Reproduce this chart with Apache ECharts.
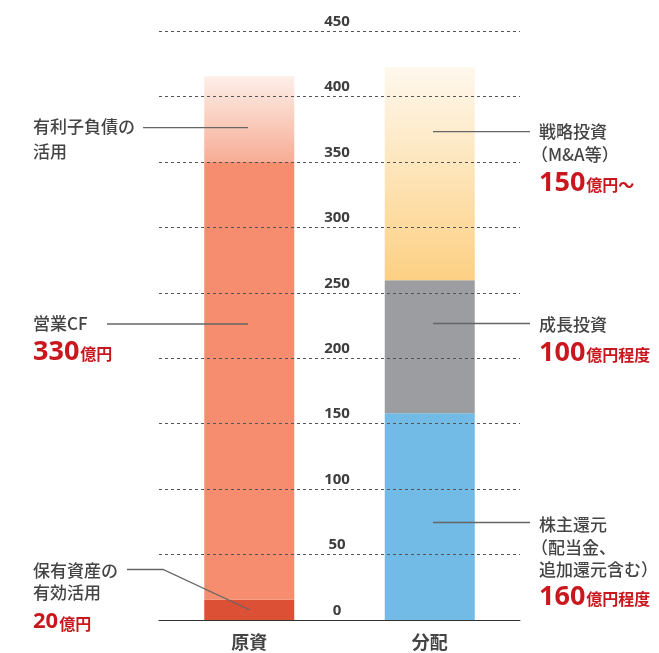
<!DOCTYPE html>
<html><head><meta charset="utf-8">
<script src="https://cdn.jsdelivr.net/npm/echarts@6/dist/echarts.min.js"></script>
<style>html,body{margin:0;padding:0;background:#fff;}#c{width:659px;height:653px;}</style>
</head><body><div id="c"></div>
<script>
// ---- data ----
const categories = ['原資', '分配'];
const yTicks = [0, 50, 100, 150, 200, 250, 300, 350, 400, 450];
const assetUse = [15.5, '-'];      // 保有資産の有効活用
const operatingCF = [334.5, '-'];  // 営業CF
const debtUse = [65.5, '-'];       // 有利子負債の活用
const shareholder = ['-', 158];    // 株主還元
const growth = ['-', 101.5];       // 成長投資
const strategic = ['-', 163];      // 戦略投資

const chart = echarts.init(document.getElementById('c'));
const JP = '"Noto Sans CJK JP", "Noto Sans", sans-serif';
const grad = (top, bottom) => new echarts.graphic.LinearGradient(0, 0, 0, 1, [
  {offset: 0, color: top}, {offset: 1, color: bottom}]);

function bar(name, data, color) {
  return {name, type: 'bar', stack: 'total', data, barWidth: 90,
    itemStyle: {color}, emphasis: {disabled: true}, z: 2};
}

const txt = (text, x, y, size) => ({type: 'text', z: 20, style: {
  text, x, y, fill: '#444', fontSize: size || 17, fontWeight: 500, fontFamily: JP, verticalAlign: 'middle'}});
const red = (num, unit, x, y, nsize) => ({type: 'text', z: 20, style: {
  text: '{n|' + num + '}{u|' + unit + '}', x, y, verticalAlign: 'middle',
  rich: {
    n: {fontSize: nsize || 27, fontWeight: 'bold', fill: '#c9171e', fontFamily: '"Noto Sans", sans-serif'},
    u: {fontSize: 16, fontWeight: 'bold', fill: '#c9171e', fontFamily: JP, padding: [4, 0, 0, 1]}
  }}});
const line = (pts) => ({type: 'polyline', z: 20, shape: {points: pts},
  style: {stroke: '#666', lineWidth: 1.3, fill: null}});

chart.setOption({
  animation: false,
  grid: {left: 159, width: 361, top: 31, bottom: 33},
  xAxis: {
    type: 'category', data: categories, z: 6,
    axisLine: {lineStyle: {color: '#333', width: 1}},
    axisTick: {show: false},
    axisLabel: {color: '#444', fontSize: 18, fontWeight: 'bold', fontFamily: JP, margin: 13}
  },
  yAxis: {
    type: 'value', min: 0, max: 450, interval: 50, z: 5,
    axisLine: {show: false}, axisTick: {show: false},
    splitLine: {show: true, lineStyle: {color: '#555', type: [3, 3], width: 1}},
    axisLabel: {
      formatter: v => (yTicks.indexOf(v) >= 0 ? String(v) : ''),
      color: '#3d3d3d', fontSize: 15, fontWeight: 'bold', fontFamily: '"Noto Sans", sans-serif',
      align: 'center', verticalAlign: 'bottom', margin: -178, padding: [0, 0, 2, 0]
    }
  },
  series: [
    bar('保有資産の有効活用', assetUse, '#dc5036'),
    bar('営業CF', operatingCF, '#f68d6e'),
    bar('有利子負債の活用', debtUse, grad('#fdefe9', '#f7ad95')),
    bar('株主還元', shareholder, '#72bbe6'),
    bar('成長投資', growth, '#9c9da0'),
    bar('戦略投資', strategic, grad('#fef8ed', '#fdd083'))
  ],
  graphic: [
    txt('有利子負債の', 33, 127), txt('活用', 33, 152),
    line([[143, 127.7], [248, 127.7]]),
    txt('営業CF', 33, 324),
    red('330', '億円', 33, 352),
    line([[107, 324], [248, 324]]),
    txt('保有資産の', 33, 571), txt('有効活用', 33, 593),
    red('20', '億円', 33, 622, 22),
    line([[127, 569.5], [163, 569.5], [250, 610]]),
    txt('戦略投資', 539, 132), txt('（M&A等）', 531, 155),
    red('150', '億円～', 539, 183),
    line([[433, 131.7], [530, 131.7]]),
    txt('成長投資', 539, 325),
    red('100', '億円程度', 539, 353),
    line([[433, 323.5], [530, 323.5]]),
    txt('株主還元', 539, 525), txt('（配当金、', 531, 548), txt('追加還元含む）', 539, 570),
    red('160', '億円程度', 539, 597),
    line([[433, 522.5], [530, 522.5]])
  ]
});
</script></body></html>
